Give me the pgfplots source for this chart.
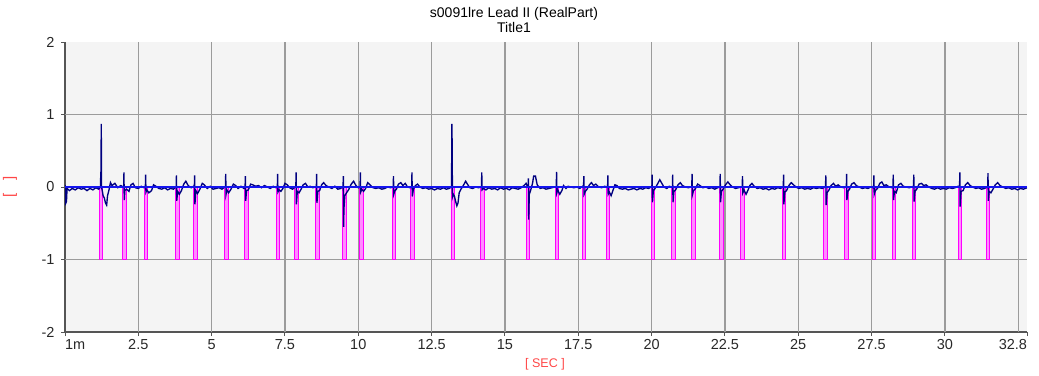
\documentclass[border=0pt]{standalone}
\usepackage{pgfplots}
\pgfplotsset{compat=1.18}
\usepackage{fontspec}
\setmainfont{Liberation Sans}
\definecolor{bg}{RGB}{244,244,244}
\definecolor{gridc}{RGB}{155,155,155}
\definecolor{axisc}{RGB}{85,85,85}
\definecolor{tickc}{RGB}{40,40,40}
\definecolor{labc}{RGB}{255,70,70}
\definecolor{trace}{RGB}{0,0,128}
\definecolor{zline}{RGB}{20,20,240}
\definecolor{mag}{RGB}{255,0,255}
\begin{document}
\begin{tikzpicture}
\begin{axis}[
  name=ax,
  scale only axis, width=962bp, height=290bp,
  xmin=0, xmax=32.8, ymin=-2, ymax=2,
  axis x line=bottom, axis y line=left,
  axis line style={-, draw=axisc, line width=1.3bp},
  axis background/.style={fill=bg},
  xtick={0.001,2.5,5,7.5,10,12.5,15,17.5,20,22.5,25,27.5,30,32.8},
  xticklabels={\rlap{1m},2.5,5,7.5,10,12.5,15,17.5,20,22.5,25,27.5,30,\llap{32.8}},
  ytick={-2,-1,0,1,2},
  yticklabels={-2,-1,0,1,2},
  extra x ticks={2.5,5,7.5,10,12.5,15,17.5,20,22.5,25,27.5,30,32.5},
  extra x tick labels={},
  extra x tick style={grid=major, major tick length=0pt},
  extra y ticks={-1,0,1},
  extra y tick labels={},
  extra y tick style={grid=major, major tick length=0pt},
  major grid style={draw=gridc, line width=1.4bp},
  tick align=outside, major tick length=4bp,
  tick style={draw=axisc, line width=1bp},
  ticklabel style={font=\fontsize{14.5bp}{16bp}\selectfont, text=tickc},
  yticklabel style={xshift=-3bp},
  clip=true,
]
% beat markers
\addplot[ybar, bar width=0.12, draw=mag, fill=mag!45, line width=0.9bp] coordinates {
(1.225,-1)(2.02,-1)(2.76,-1)(3.84,-1)(4.44,-1)(5.51,-1)(6.19,-1)(7.26,-1)(7.89,-1)(8.61,-1)
(9.53,-1)(10.1,-1)(11.21,-1)(11.84,-1)(13.22,-1)(14.24,-1)(15.79,-1)(16.77,-1)(17.69,-1)(18.51,-1)
(20.04,-1)(20.74,-1)(21.42,-1)(22.39,-1)(23.10,-1)(24.51,-1)(25.93,-1)(26.64,-1)(27.58,-1)(28.26,-1)
(28.95,-1)(30.52,-1)(31.47,-1)};
% ECG trace
\addplot[trace, line width=1.35bp, mark=none] coordinates {
(0.001,0.03)(0.02,-0.05)(0.03,-0.22)(0.05,-0.2)(0.07,-0.02)(0.15,-0.05)(0.25,-0.02)(0.35,-0.04)(0.45,-0.01)(0.55,-0.03)(0.65,-0.02)(0.75,-0.05)(0.85,-0.02)(0.95,-0.04)(1.05,-0.01)(1.15,-0.03)(1.21,0.0)
(1.22,0.2)(1.23,0.2)(1.235,0.87)(1.24,0.6)(1.245,0.0)(1.27,-0.05)(1.3,-0.12)(1.34,-0.15)(1.38,-0.22)(1.42,-0.25)(1.45,-0.12)(1.5,-0.04)(1.55,0.06)(1.6,0.02)(1.7,0.05)(1.8,-0.01)(1.9,0.02)(1.99,0.0)
(2.00,0)(2.01,0.2)(2.02,-0.18)(2.04,-0.05)(2.1,-0.03)(2.18,-0.06)(2.25,0.03)(2.32,0.05)(2.4,-0.01)(2.5,-0.02)(2.6,0.01)(2.7,-0.01)
(2.74,0)(2.75,0.17)(2.76,-0.07)(2.79,-0.04)(2.86,-0.08)(2.95,-0.05)(3.02,0.03)(3.1,0.01)(3.2,-0.02)(3.3,-0.03)(3.4,-0.01)(3.5,-0.04)(3.6,-0.02)(3.7,-0.03)(3.77,0.0)
(3.79,0)(3.80,0.16)(3.81,-0.19)(3.84,-0.06)(3.9,-0.1)(3.97,-0.05)(4.05,0.04)(4.12,0.08)(4.2,0.02)(4.3,-0.01)(4.38,0.01)
(4.41,0)(4.42,0.16)(4.43,-0.24)(4.46,-0.05)(4.52,-0.09)(4.6,-0.03)(4.68,0.05)(4.75,0.03)(4.85,-0.02)(4.95,0.01)(5.05,-0.03)(5.15,-0.02)(5.25,-0.01)(5.35,-0.03)(5.45,0.0)
(5.47,0)(5.48,0.18)(5.49,-0.1)(5.52,-0.04)(5.58,-0.08)(5.66,-0.03)(5.74,0.04)(5.82,0.02)(5.9,-0.02)(6.0,0.01)(6.1,-0.02)
(6.14,0)(6.15,0.15)(6.16,-0.19)(6.19,-0.05)(6.25,-0.04)(6.33,0.04)(6.4,0.03)(6.5,0.01)(6.6,0.02)(6.7,-0.01)(6.8,0.02)(6.9,0.0)(7.0,-0.02)(7.1,0.01)(7.2,-0.01)
(7.24,0)(7.25,0.18)(7.26,-0.07)(7.3,-0.04)(7.36,-0.06)(7.43,-0.02)(7.5,0.05)(7.58,0.03)(7.66,-0.01)(7.76,-0.03)(7.84,0.0)
(7.87,0)(7.88,0.2)(7.89,-0.24)(7.92,-0.06)(7.98,-0.08)(8.05,-0.03)(8.12,0.03)(8.2,0.05)(8.28,0.0)(8.36,0.01)(8.45,-0.01)(8.54,0.0)
(8.57,0)(8.58,0.18)(8.59,-0.22)(8.62,-0.06)(8.68,-0.05)(8.75,0.03)(8.82,0.06)(8.9,0.02)(9.0,0.0)(9.1,-0.02)(9.2,0.01)(9.3,-0.03)(9.4,-0.02)(9.46,0.0)
(9.48,0)(9.49,0.15)(9.50,-0.55)(9.51,-0.3)(9.54,-0.12)(9.6,-0.08)(9.68,-0.03)(9.76,0.04)(9.84,0.08)(9.92,0.02)(10.0,-0.01)(10.05,0.0)
(10.06,0)(10.07,0.2)(10.08,-0.07)(10.12,-0.03)(10.18,-0.06)(10.25,-0.02)(10.32,0.06)(10.4,0.03)(10.5,-0.01)(10.6,-0.02)(10.7,-0.01)(10.8,-0.03)(10.9,-0.02)(11.0,0.0)(11.1,-0.01)(11.17,0.0)
(11.19,0)(11.20,0.15)(11.21,-0.1)(11.25,-0.05)(11.3,-0.03)(11.37,0.04)(11.45,0.06)(11.52,0.02)(11.6,0.05)(11.68,0.0)(11.76,-0.01)(11.81,0.0)
(11.82,0)(11.83,0.2)(11.84,-0.13)(11.88,-0.03)(11.95,0.02)(12.02,0.04)(12.1,0.0)(12.2,-0.02)(12.3,-0.01)(12.4,-0.03)(12.5,-0.02)(12.6,-0.04)(12.7,-0.02)(12.8,-0.03)(12.9,-0.01)(13.0,-0.03)(13.1,-0.02)(13.17,0.0)
(13.18,0)(13.19,0.87)(13.2,0.6)(13.21,-0.14)(13.24,-0.1)(13.28,-0.13)(13.32,-0.2)(13.36,-0.26)(13.4,-0.22)(13.44,-0.08)(13.5,-0.03)(13.58,0.02)(13.66,0.08)(13.72,0.04)(13.8,-0.01)(13.9,-0.02)(14.0,0.0)(14.1,-0.01)(14.18,0.0)
(14.2,0)(14.21,0.2)(14.22,-0.04)(14.27,-0.02)(14.35,-0.04)(14.45,-0.01)(14.55,-0.03)(14.65,-0.02)(14.75,-0.04)(14.85,-0.01)(14.95,-0.03)(15.05,-0.02)(15.15,-0.04)(15.25,-0.01)(15.35,-0.02)(15.45,-0.03)(15.55,-0.01)(15.65,0.02)(15.72,0.05)(15.78,0.0)
(15.79,0)(15.8,0.12)(15.81,-0.45)(15.83,-0.1)(15.88,-0.04)(15.94,0.05)(15.98,0.15)(16.04,0.15)(16.1,0.03)(16.2,-0.02)(16.3,-0.01)(16.4,-0.03)(16.5,-0.02)(16.6,-0.01)(16.7,0.0)
(16.75,0)(16.76,0.21)(16.77,-0.08)(16.8,-0.04)(16.87,-0.1)(16.94,-0.05)(17.0,0.02)(17.08,-0.02)(17.15,0.01)(17.25,0.0)(17.35,-0.01)(17.45,0.0)(17.55,-0.02)(17.65,0.01)
(17.68,0)(17.69,0.15)(17.7,-0.1)(17.74,-0.06)(17.8,-0.03)(17.88,0.03)(17.95,0.06)(18.02,0.02)(18.1,0.04)(18.2,0.0)(18.3,-0.01)(18.4,0.01)(18.48,0.0)
(18.5,0)(18.51,0.16)(18.52,-0.1)(18.56,-0.07)(18.62,-0.12)(18.68,-0.05)(18.75,0.03)(18.82,0.02)(18.9,-0.02)(19.0,-0.03)(19.1,-0.02)(19.2,-0.04)(19.3,-0.03)(19.4,-0.02)(19.5,-0.04)(19.6,-0.02)(19.7,-0.03)(19.8,-0.01)(19.9,-0.02)(19.98,0.0)
(20.01,0)(20.02,0.17)(20.03,-0.21)(20.06,-0.05)(20.12,-0.02)(20.2,0.04)(20.28,0.1)(20.35,0.05)(20.42,0.0)(20.52,-0.02)(20.6,0.01)(20.68,0.0)
(20.71,0)(20.72,0.17)(20.73,-0.21)(20.76,-0.06)(20.82,-0.04)(20.9,0.03)(20.98,0.06)(21.05,0.02)(21.15,0.0)(21.25,-0.01)(21.35,0.0)
(21.37,0)(21.38,0.18)(21.39,-0.11)(21.43,-0.05)(21.5,-0.02)(21.57,0.04)(21.65,0.02)(21.75,-0.01)(21.85,0.0)(21.95,-0.02)(22.05,-0.01)(22.15,-0.03)(22.25,-0.01)(22.32,0.0)
(22.33,0)(22.34,0.18)(22.35,-0.21)(22.38,-0.06)(22.44,-0.03)(22.52,0.03)(22.6,0.07)(22.68,0.03)(22.76,0.0)(22.86,-0.02)(22.96,-0.01)(23.06,0.0)
(23.09,0)(23.1,0.15)(23.11,-0.08)(23.15,-0.04)(23.22,-0.1)(23.28,-0.05)(23.35,0.02)(23.42,0.05)(23.5,0.01)(23.6,-0.02)(23.7,-0.01)(23.8,-0.03)(23.9,-0.02)(24.0,-0.04)(24.1,-0.02)(24.2,-0.03)(24.3,-0.01)(24.4,-0.02)(24.47,0.0)
(24.49,0)(24.5,0.17)(24.51,-0.24)(24.54,-0.07)(24.6,-0.05)(24.68,0.02)(24.76,0.06)(24.84,0.03)(24.92,0.0)(25.02,-0.02)(25.12,-0.01)(25.22,-0.03)(25.32,-0.02)(25.42,-0.03)(25.52,-0.01)(25.62,-0.02)(25.72,-0.01)(25.82,-0.02)(25.91,0.0)
(25.93,0)(25.94,0.16)(25.95,-0.25)(25.98,-0.08)(26.05,-0.04)(26.12,0.02)(26.2,0.05)(26.28,0.01)(26.36,0.03)(26.45,0.0)(26.55,-0.01)(26.62,0.0)
(26.64,0)(26.65,0.18)(26.66,-0.18)(26.69,-0.06)(26.75,-0.03)(26.82,0.04)(26.9,0.06)(26.98,0.02)(27.08,0.0)(27.18,-0.02)(27.28,-0.01)(27.38,-0.02)(27.48,0.0)(27.55,-0.01)
(27.57,0)(27.58,0.16)(27.59,-0.1)(27.63,-0.05)(27.7,-0.02)(27.78,0.05)(27.85,0.07)(27.92,0.02)(28.0,0.03)(28.1,0.0)(28.2,-0.01)
(28.23,0)(28.24,0.17)(28.25,-0.18)(28.28,-0.06)(28.34,-0.08)(28.42,0.03)(28.5,0.05)(28.58,0.01)(28.68,0.0)(28.78,-0.01)(28.88,0.0)(28.92,0.01)
(28.93,0)(28.94,0.17)(28.95,-0.2)(28.98,-0.06)(29.04,-0.03)(29.12,0.04)(29.2,0.05)(29.28,0.02)(29.36,0.03)(29.45,0.0)(29.55,-0.02)(29.65,-0.03)(29.75,-0.01)(29.85,-0.03)(29.95,-0.02)(30.05,-0.03)(30.15,-0.01)(30.25,-0.02)(30.35,-0.01)(30.45,0.01)(30.49,0.0)
(30.5,0)(30.51,0.2)(30.52,-0.27)(30.55,-0.06)(30.62,-0.05)(30.7,0.03)(30.78,0.06)(30.86,0.02)(30.95,0.0)(31.05,-0.02)(31.15,-0.01)(31.25,-0.03)(31.35,-0.02)(31.44,0.0)
(31.46,0)(31.47,0.19)(31.48,-0.19)(31.51,-0.06)(31.57,-0.08)(31.64,-0.03)(31.72,0.03)(31.8,0.06)(31.88,0.02)(31.98,0.0)(32.08,-0.02)(32.18,-0.01)(32.28,-0.03)(32.38,-0.02)(32.48,-0.04)(32.58,-0.02)(32.68,-0.03)(32.8,-0.01)
};
% zero line
\addplot[zline, line width=1.6bp, mark=none] coordinates {(0,0)(32.8,0)};
\end{axis}
\node[anchor=base, font=\fontsize{14bp}{16bp}\selectfont, text=black] at ([xshift=449bp,yshift=24.5bp]ax.north west) {s0091lre Lead II (RealPart)};
\node[anchor=base, font=\fontsize{14bp}{16bp}\selectfont, text=black] at ([xshift=449bp,yshift=9.3bp]ax.north west) {Title1};
\node[anchor=center, font=\fontsize{12.5bp}{14bp}\selectfont, text=labc] at ([xshift=480bp,yshift=-32bp]ax.south west) {[ SEC ]};
\node[anchor=center, rotate=90, font=\fontsize{15bp}{17bp}\selectfont, text=labc] at ([xshift=-55bp]ax.west) {[\hspace{13bp}]};
\pgfresetboundingbox
\path ([shift={(-65bp,-44bp)}]ax.south west) rectangle ([shift={(12bp,42bp)}]ax.north east);
\end{tikzpicture}
\end{document}
